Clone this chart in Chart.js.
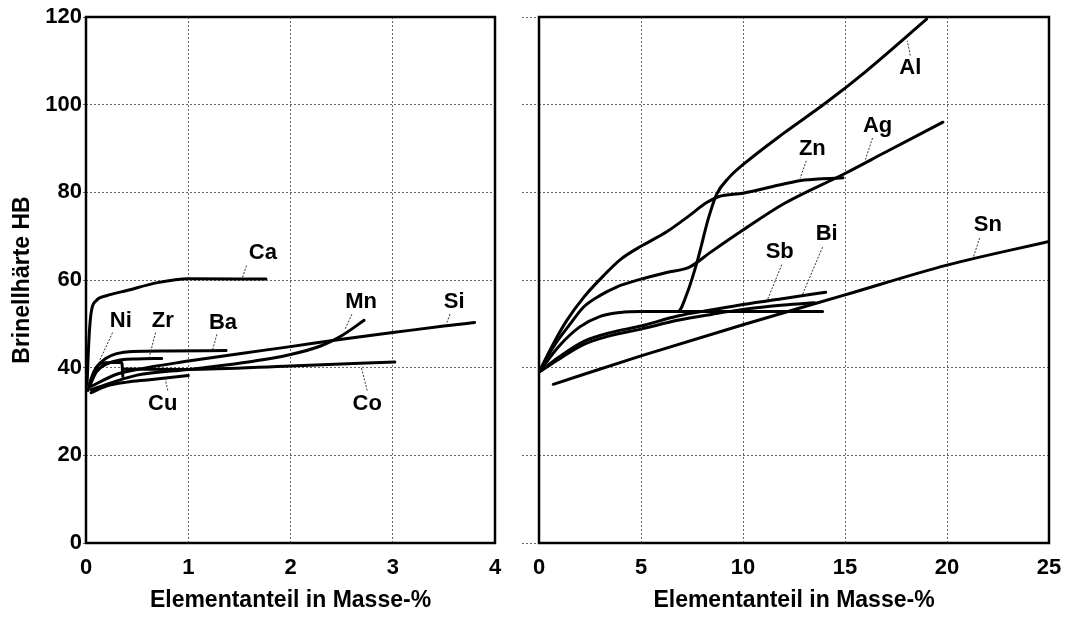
<!DOCTYPE html>
<html>
<head>
<meta charset="utf-8">
<script src="https://cdn.jsdelivr.net/npm/chart.js@4/dist/chart.umd.min.js"></script>
<style>
html, body { margin:0; padding:0; background:#fff; }
#wrap { position:relative; width:1067px; height:617px; }
#leftBox { position:absolute; left:0; top:0; width:517px; height:617px; }
#rightBox { position:absolute; left:517px; top:0; width:550px; height:617px; }
</style>
</head>
<body>
<div id="wrap">
  <div id="leftBox"><canvas id="left"></canvas></div>
  <div id="rightBox"><canvas id="right"></canvas></div>
</div>
<script>
// ticks
var yTicks = [0, 20, 40, 60, 80, 100, 120];
var xTicksLeft = [0, 1, 2, 3, 4];
var xTicksRight = [0, 5, 10, 15, 20, 25];

// left panel (0 - 4 Masse-%)
var caX = [0.01, 0.03, 0.05, 0.1, 0.2, 0.4, 0.7, 1.0, 1.76];
var caY = [36, 47, 52.5, 55.3, 56.4, 57.6, 59.4, 60.3, 60.2];
var niX = [0.02, 0.05, 0.1, 0.15, 0.25, 0.35, 0.36];
var niY = [34.8, 37.5, 40, 41, 41.2, 41.2, 38];
var zrX = [0.04, 0.1, 0.2, 0.35, 0.5, 0.74];
var zrY = [36, 39, 40.8, 41.8, 42, 42.1];
var baX = [0.04, 0.1, 0.2, 0.3, 0.45, 0.8, 1.37];
var baY = [36.5, 40, 42.2, 43.2, 43.7, 43.8, 43.9];
var cuX = [0.05, 0.2, 0.4, 0.6, 1.0];
var cuY = [34.3, 35.8, 36.7, 37.2, 38.2];
var coX = [0.36, 1, 2, 3.02];
var coY = [39.7, 39.6, 40.4, 41.3];
var mnX = [0.05, 0.5, 1, 1.5, 2, 2.3, 2.5, 2.72];
var mnY = [35, 38.3, 39.6, 41, 43, 45, 47.3, 50.8];
var siX = [0.03, 0.3, 0.5, 1, 1.5, 2, 2.5, 3, 3.5, 3.8];
var siY = [35.5, 38.5, 39.6, 41.5, 43.2, 44.8, 46.5, 48, 49.5, 50.3];

// right panel (0 - 25 Masse-%)
var alX = [0, 1, 2, 3, 4, 5, 6.8, 7.3, 7.8, 8.3, 8.7, 9.3, 10, 12, 14, 16, 19];
var alY = [39, 45, 49.3, 51.7, 52.6, 52.8, 52.8, 57.5, 65, 74, 79.5, 83.3, 86.3, 93.5, 100.2, 107.5, 119.5];
var alBranchX = [6.8, 10, 13.9];
var alBranchY = [52.8, 52.8, 52.8];
var znX = [0, 0.73, 1.38, 2.2, 3, 4, 5, 6.26, 7.4, 8.2, 8.8, 10, 12, 13, 14.9];
var znY = [39, 45.7, 50.9, 56.1, 60.2, 64.7, 67.7, 71, 74.8, 77.6, 79, 79.8, 81.9, 82.8, 83.3];
var agX = [0, 0.73, 1.5, 2.2, 3, 3.8, 5, 6.26, 7.4, 8.4, 10, 12, 15, 17, 19.8];
var agY = [39, 44.9, 49.8, 53.9, 56.5, 58.4, 60.2, 61.7, 63, 66.3, 71.4, 77.4, 84.3, 89.2, 96];
var sbX = [0, 1, 2.2, 3.5, 5, 6.8, 8.5, 10, 12, 13.5];
var sbY = [39, 42, 45.3, 47.3, 48.8, 50.8, 52.2, 53.3, 54.3, 54.8];
var biX = [0, 1, 2.2, 3.5, 5, 6.8, 8.5, 10, 12, 14.05];
var biY = [39, 42.5, 46, 48, 49.5, 51.8, 53.2, 54.4, 55.8, 57.2];
var snX = [0.7, 5, 10, 15, 20, 25];
var snY = [36.2, 42.7, 49.8, 56.6, 63.4, 68.8];

// curve labels: text position and leader line, in data units
var leftNotes = [
  {text:'Ca', at:[1.73, 66.2], from:[1.57, 63.3], to:[1.53, 60.6]},
  {text:'Ni', at:[0.34, 50.7], from:[0.26, 48], to:[0.13, 41.5]},
  {text:'Zr', at:[0.75, 50.7], from:[0.68, 48], to:[0.62, 42.5]},
  {text:'Ba', at:[1.34, 50.2], from:[1.28, 47.6], to:[1.24, 44.2]},
  {text:'Mn', at:[2.69, 54.9], from:[2.6, 52.2], to:[2.53, 48.6]},
  {text:'Si', at:[3.6, 54.9], from:[3.56, 52.2], to:[3.53, 50.3]},
  {text:'Cu', at:[0.75, 31.8], from:[0.8, 34.8], to:[0.77, 37.8]},
  {text:'Co', at:[2.75, 31.8], from:[2.75, 34.8], to:[2.69, 40.3]}
];
var rightNotes = [
  {text:'Al', at:[18.2, 108.4], from:[18.2, 111.2], to:[18.05, 114.6]},
  {text:'Ag', at:[16.6, 95.2], from:[16.35, 92.4], to:[16.0, 87.5]},
  {text:'Zn', at:[13.4, 90], from:[13.1, 87.2], to:[12.8, 83.2]},
  {text:'Sn', at:[22.0, 72.6], from:[21.6, 69.6], to:[21.3, 65.3]},
  {text:'Sb', at:[11.8, 66.3], from:[11.9, 63.5], to:[11.2, 55.5]},
  {text:'Bi', at:[14.1, 70.4], from:[13.9, 67.5], to:[12.9, 56.5]}
];

var FONT = '"Liberation Sans", Arial, sans-serif';
Chart.defaults.font.family = FONT;
Chart.defaults.color = '#000';

function pts(xs, ys) {
  return xs.map(function (x, i) { return {x: x, y: ys[i]}; });
}

function curve(name, xs, ys) {
  return {
    label: name,
    data: pts(xs, ys),
    showLine: true,
    borderColor: '#000',
    borderWidth: 3,
    pointRadius: 0,
    cubicInterpolationMode: 'monotone',
    fill: false,
    borderCapStyle: 'round',
    borderJoinStyle: 'round'
  };
}

// frame round the plot and the element names with their leader lines
var notesPlugin = {
  id: 'notes',
  afterDatasetsDraw: function (chart, args, opts) {
    var ctx = chart.ctx;
    var sx = chart.scales.x, sy = chart.scales.y;
    var a = chart.chartArea;
    ctx.save();
    ctx.strokeStyle = '#000';
    ctx.lineWidth = 2.5;
    ctx.strokeRect(a.left, a.top, a.right - a.left, a.bottom - a.top);
    (opts.items || []).forEach(function (n) {
      ctx.setLineDash([2, 1.5]);
      ctx.lineWidth = 1;
      ctx.strokeStyle = '#333';
      ctx.beginPath();
      ctx.moveTo(sx.getPixelForValue(n.from[0]), sy.getPixelForValue(n.from[1]));
      ctx.lineTo(sx.getPixelForValue(n.to[0]), sy.getPixelForValue(n.to[1]));
      ctx.stroke();
      ctx.setLineDash([]);
      ctx.fillStyle = '#000';
      ctx.font = 'bold 22px ' + FONT;
      ctx.textAlign = 'center';
      ctx.textBaseline = 'middle';
      ctx.fillText(n.text, sx.getPixelForValue(n.at[0]), sy.getPixelForValue(n.at[1]));
    });
    ctx.restore();
  }
};

function fixedTicks(list) {
  return function (scale) {
    scale.ticks = list.map(function (v) { return {value: v}; });
  };
}

function makeOptions(xMax, xTicks, showY, yWidth, rightPad, notes) {
  return {
    responsive: true,
    maintainAspectRatio: false,
    animation: false,
    layout: {padding: {left: 0, top: 17, right: rightPad, bottom: 0}},
    plugins: {
      legend: {display: false},
      tooltip: {enabled: false},
      notes: {items: notes}
    },
    scales: {
      x: {
        type: 'linear',
        min: 0,
        max: xMax,
        afterBuildTicks: fixedTicks(xTicks),
        afterFit: function (s) {
          s.height = 74;
          s.paddingLeft = 0;
          s.paddingRight = 0;
        },
        grid: {color: '#666', lineWidth: 1, drawTicks: false},
        border: {display: false, dash: [2, 2]},
        ticks: {padding: 12, font: {size: 22, weight: 'bold'}, color: '#000'},
        title: {
          display: true,
          text: 'Elementanteil in Masse-%',
          font: {size: 23, weight: 'bold'},
          color: '#000',
          padding: {top: 0, bottom: 3}
        }
      },
      y: {
        type: 'linear',
        min: 0,
        max: 120,
        afterBuildTicks: fixedTicks(yTicks),
        afterFit: function (s) {
          s.width = yWidth;
          s.paddingTop = 0;
          s.paddingBottom = 0;
        },
        grid: {
          color: '#666', lineWidth: 1, drawTicks: true,
          tickLength: showY ? 3 : 17, tickBorderDash: [2, 2]
        },
        border: {display: false, dash: [2, 2]},
        ticks: {display: showY, padding: 1, font: {size: 22, weight: 'bold'}, color: '#000'},
        title: {
          display: showY,
          text: 'Brinellhärte HB',
          font: {size: 23, weight: 'bold'},
          color: '#000',
          padding: {top: 9, bottom: 0}
        }
      }
    }
  };
}

new Chart(document.getElementById('left'), {
  type: 'scatter',
  data: {
    datasets: [
      curve('Ca', caX, caY),
      curve('Ni', niX, niY),
      curve('Zr', zrX, zrY),
      curve('Ba', baX, baY),
      curve('Cu', cuX, cuY),
      curve('Co', coX, coY),
      curve('Mn', mnX, mnY),
      curve('Si', siX, siY)
    ]
  },
  options: makeOptions(4, xTicksLeft, true, 86, 22, leftNotes),
  plugins: [notesPlugin]
});

new Chart(document.getElementById('right'), {
  type: 'scatter',
  data: {
    datasets: [
      curve('Al', alX, alY),
      curve('Al', alBranchX, alBranchY),
      curve('Zn', znX, znY),
      curve('Ag', agX, agY),
      curve('Sb', sbX, sbY),
      curve('Bi', biX, biY),
      curve('Sn', snX, snY)
    ]
  },
  options: makeOptions(25, xTicksRight, false, 22, 18, rightNotes),
  plugins: [notesPlugin]
});
</script>
</body>
</html>
